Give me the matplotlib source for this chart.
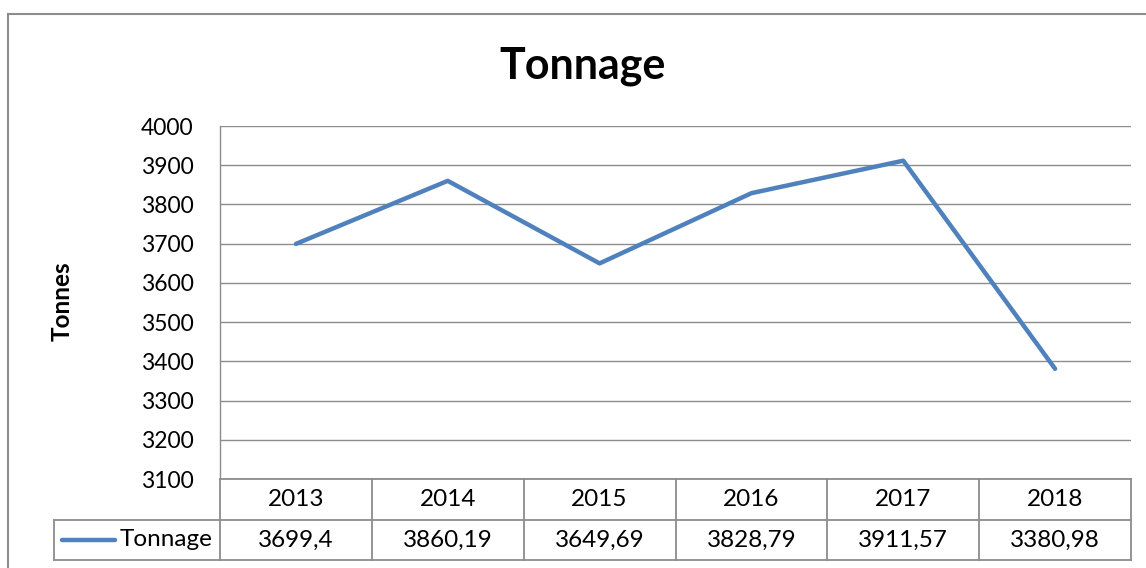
import matplotlib
matplotlib.use("Agg")
import matplotlib.pyplot as plt
from matplotlib.lines import Line2D

years = ["2013", "2014", "2015", "2016", "2017", "2018"]
tonnage = [3699.4, 3860.19, 3649.69, 3828.79, 3911.57, 3380.98]
series_name = "Tonnage"
title = "Tonnage"
ylabel = "Tonnes"
yticks = [3100, 3200, 3300, 3400, 3500, 3600, 3700, 3800, 3900, 4000]

W, H = 1146, 568
plt.rcParams['font.family'] = ['Lato', 'DejaVu Sans']
fig = plt.figure(figsize=(W / 100, H / 100), dpi=100)

def fx(px):
    return px / W

def fy(py):
    return 1 - py / H

grid_c = "#8c8c8c"
line_c = "#4F81BD"

# plot area in pixels
L, R, T, B = 220, 1131, 126, 479
ax = fig.add_axes([fx(L), fy(B), fx(R) - fx(L), fy(T) - fy(B)])
x = list(range(len(years)))
ax.plot(x, tonnage, color=line_c, lw=3.2, solid_capstyle='round', solid_joinstyle='round', zorder=3)
ax.set_xlim(-0.5, len(years) - 0.5)
ax.set_ylim(3100, 4000)
ax.set_yticks(yticks)
ax.set_yticklabels([str(v) for v in yticks], fontsize=16.5)
ax.tick_params(axis='y', length=0, pad=19)
ax.set_xticks([])
ax.grid(axis='y', color=grid_c, lw=1)
for s in ['top', 'right', 'bottom']:
    ax.spines[s].set_visible(False)
ax.spines['left'].set_color(grid_c)
ax.spines['left'].set_linewidth(1)
ax.set_axisbelow(True)

fig.text(fx(583), fy(66), title, fontsize=31, fontweight='bold', ha='center', va='center')
fig.text(fx(62), fy(301), ylabel, fontsize=17.5, fontweight='bold', rotation=90, ha='center', va='center')

# outer chart border
fig.add_artist(Line2D([fx(8), fx(W)], [fy(14), fy(14)], color=grid_c, lw=1.5))
fig.add_artist(Line2D([fx(8), fx(8)], [fy(14), fy(H)], color=grid_c, lw=1.5))

# data table
r1t, r1b, r2b = 479, 520, 560
legL = 54
colw = (R - L) / len(years)

def hline(y, x0, x1):
    fig.add_artist(Line2D([fx(x0), fx(x1)], [fy(y), fy(y)], color=grid_c, lw=1.3))

def vline(xp, y0, y1):
    fig.add_artist(Line2D([fx(xp), fx(xp)], [fy(y0), fy(y1)], color=grid_c, lw=1.3))

hline(r1t, L, R)
hline(r1b, legL, R)
hline(r2b, legL, R)
vline(legL, r1b, r2b)
for i in range(len(years) + 1):
    vline(L + i * colw, r1t, r2b)

for i, (yr, v) in enumerate(zip(years, tonnage)):
    cx = L + (i + 0.5) * colw
    fig.text(fx(cx), fy((r1t + r1b) / 2), yr, fontsize=17.5, ha='center', va='center')
    fig.text(fx(cx), fy((r1b + r2b) / 2), f"{v:g}".replace('.', ','), fontsize=17.5, ha='center', va='center')

fig.add_artist(Line2D([fx(62), fx(115)], [fy(540), fy(540)], color=line_c, lw=3.2, solid_capstyle='round'))
fig.text(fx(120), fy(540), series_name, fontsize=17.5, ha='left', va='center')

fig.savefig("out.png", dpi=100)
